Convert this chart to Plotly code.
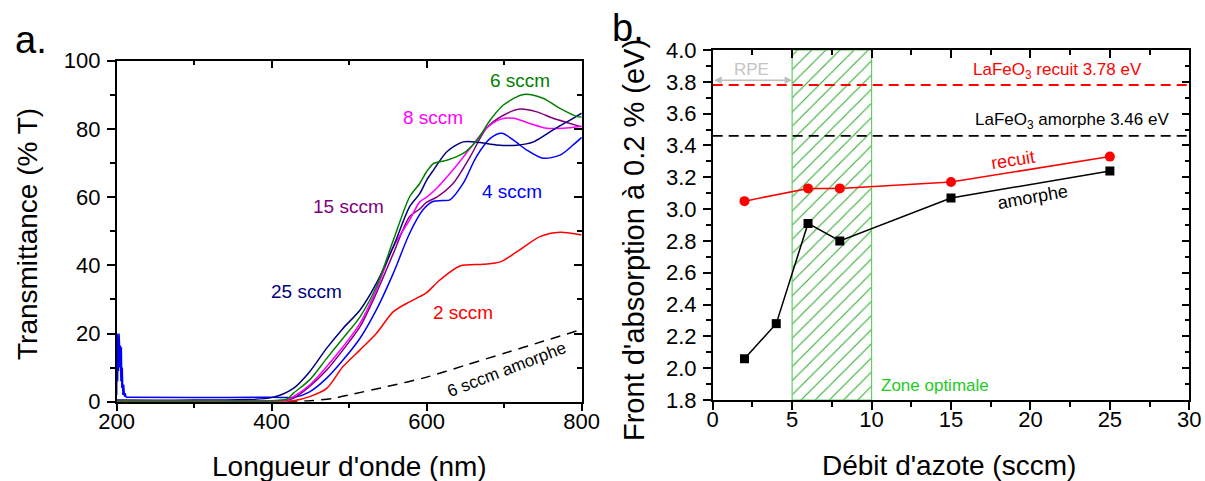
import plotly.graph_objects as go

# ---------------- Panel a: transmittance spectra ----------------
wl_6sccm = [200, 300, 400, 420, 428, 449, 471, 492, 514, 535, 557, 578, 591, 600, 609, 626, 647, 665, 682, 699, 725, 750, 772, 794, 800]
t_6sccm = [0.3, 0.3, 0.3, 0.8, 2.5, 6.4, 12.7, 18.6, 24.9, 33.7, 47.4, 60.1, 64.0, 67.5, 69.9, 70.8, 72.8, 76.7, 82.6, 87.0, 90.1, 89.0, 86.0, 83.6, 83.5]

wl_8sccm = [200, 300, 400, 420, 428, 449, 471, 492, 514, 535, 557, 578, 591, 600, 613, 634, 656, 677, 695, 712, 733, 755, 776, 800]
t_8sccm = [0.2, 0.2, 0.2, 0.6, 1.5, 4.9, 10.3, 16.1, 23.0, 32.8, 45.5, 53.3, 58.6, 60.0, 62.6, 68.0, 74.3, 80.2, 82.8, 83.1, 81.6, 80.2, 80.2, 80.8]

wl_15sccm = [200, 300, 400, 420, 428, 449, 471, 492, 514, 535, 557, 578, 591, 600, 613, 634, 656, 677, 699, 720, 742, 763, 785, 800]
t_15sccm = [0.2, 0.2, 0.2, 0.5, 1.0, 4.5, 9.3, 15.2, 22.0, 31.8, 43.5, 54.3, 56.5, 58.5, 60.0, 64.0, 71.8, 80.2, 84.0, 85.8, 85.0, 83.1, 81.6, 80.6]

wl_4sccm_spike = [200, 200.6, 201.2, 201.8, 202.4, 203, 203.6, 204.2, 204.8, 205.4, 206, 206.6, 207.2, 208, 209, 210, 211, 212]
t_4sccm_spike = [2, 20, 6, 19.5, 9, 20, 17, 10, 16.5, 6, 16, 4, 10, 2, 5, 1.5, 2.5, 1.3]
wl_4sccm = [212, 300, 400, 420, 428, 449, 471, 492, 514, 535, 557, 578, 595, 608, 620, 630, 647, 664, 682, 697, 712, 729, 750, 772, 789, 800]
t_4sccm = [1.3, 1.2, 1.3, 1.2, 1.2, 2.9, 6.9, 12.2, 18.6, 26.9, 37.7, 49.4, 56.2, 58.7, 59.0, 59.2, 64.0, 71.8, 77.2, 78.7, 76.7, 73.8, 71.4, 72.3, 75.3, 77.5]

wl_25sccm = [200, 300, 400, 428, 449, 471, 492, 514, 535, 557, 578, 591, 600, 609, 626, 647, 669, 690, 716, 738, 763, 785, 800]
t_25sccm = [0.5, 0.5, 1.2, 3.9, 8.8, 15.7, 21.5, 26.9, 34.7, 45.5, 57.2, 61.0, 65.0, 68.0, 73.3, 76.2, 76.0, 75.3, 75.2, 76.2, 79.7, 82.6, 84.6]

wl_2sccm = [200, 300, 400, 428, 449, 471, 492, 514, 535, 557, 578, 591, 600, 617, 643, 673, 695, 720, 746, 772, 800]
t_2sccm = [0.1, 0.1, 0.1, 0.3, 1.5, 3.9, 10.3, 15.2, 20.0, 26.4, 29.3, 30.8, 32.0, 35.7, 39.8, 40.3, 41.0, 44.5, 48.4, 49.7, 48.9]

wl_amorphe = [420, 450, 480, 500, 550, 600, 650, 700, 750, 800]
t_amorphe = [0.0, 0.3, 1.0, 2.0, 4.5, 7.2, 10.7, 14.2, 17.7, 21.2]

# ---------------- Panel b: absorption edge ----------------
debit_recuit = [2, 6, 8, 15, 25]
front_recuit = [3.05, 3.13, 3.13, 3.17, 3.33]
debit_amorphe = [2, 4, 6, 8, 15, 25]
front_amorphe = [2.06, 2.28, 2.91, 2.80, 3.07, 3.24]
ref_recuit = 3.78
ref_amorphe = 3.46
zone_optimale = [5, 10]
rpe_range = [0, 5]
rpe_level = 3.81

xa_range = [200, 800]
ya_range = [0, 100]
xb_range = [0, 30]
yb_range = [1.8, 4.0]

FONT = "Liberation Sans, Arial, sans-serif"
W, H = 1205, 481

fig = go.Figure()

def spec(x, y, color, shape="spline", dash=None):
    return go.Scatter(x=x, y=y, mode="lines", xaxis="x", yaxis="y",
                      line=dict(color=color, width=1.5, shape=shape, smoothing=0.8, dash=dash),
                      showlegend=False, hoverinfo="skip")

fig.add_trace(spec(wl_amorphe, t_amorphe, "black", dash="10px,7px"))
fig.add_trace(spec(wl_2sccm, t_2sccm, "#ff0000"))
fig.add_trace(spec(wl_4sccm_spike, t_4sccm_spike, "#0000ff", shape="linear"))
fig.add_trace(spec(wl_4sccm, t_4sccm, "#0000ff"))
fig.add_trace(spec(wl_15sccm, t_15sccm, "#800080"))
fig.add_trace(spec(wl_8sccm, t_8sccm, "#ff00ff"))
fig.add_trace(spec(wl_25sccm, t_25sccm, "#000080"))
fig.add_trace(spec(wl_6sccm, t_6sccm, "#008000"))

# Panel b traces
zx0, zx1 = zone_optimale
yb0, yb1 = yb_range
fig.add_trace(go.Scatter(x=[zx0, zx1, zx1, zx0, zx0], y=[yb0, yb0, yb1, yb1, yb0],
                         xaxis="x2", yaxis="y2", mode="lines", fill="toself",
                         fillcolor="rgba(0,0,0,0)",
                         fillpattern=dict(shape="/", fgcolor="#2aa82a", bgcolor="rgba(255,255,255,0)",
                                          size=10, solidity=0.1),
                         line=dict(color="#5fcf5f", width=1.2),
                         showlegend=False, hoverinfo="skip"))
fig.add_trace(go.Scatter(x=xb_range, y=[ref_recuit, ref_recuit], xaxis="x2", yaxis="y2", mode="lines",
                         line=dict(color="#ff0000", width=1.8, dash="10px,6px"), showlegend=False, hoverinfo="skip"))
fig.add_trace(go.Scatter(x=xb_range, y=[ref_amorphe, ref_amorphe], xaxis="x2", yaxis="y2", mode="lines",
                         line=dict(color="black", width=1.8, dash="10px,6px"), showlegend=False, hoverinfo="skip"))
fig.add_trace(go.Scatter(x=debit_recuit, y=front_recuit, xaxis="x2", yaxis="y2", mode="lines+markers",
                         line=dict(color="#ff0000", width=1.5),
                         marker=dict(symbol="circle", size=10, color="#ff0000"),
                         showlegend=False, hoverinfo="skip"))
fig.add_trace(go.Scatter(x=debit_amorphe, y=front_amorphe, xaxis="x2", yaxis="y2", mode="lines+markers",
                         line=dict(color="black", width=1.5),
                         marker=dict(symbol="square", size=9, color="black"),
                         showlegend=False, hoverinfo="skip"))

# dummy traces for mirrored (inside-tick) axes
fig.add_trace(go.Scatter(x=[None], y=[None], xaxis="x3", yaxis="y3", showlegend=False, hoverinfo="skip"))
fig.add_trace(go.Scatter(x=[None], y=[None], xaxis="x4", yaxis="y4", showlegend=False, hoverinfo="skip"))

# domains from pixel geometry
def px(xp):
    return xp / W

def py(yp):
    return 1 - yp / H

dom_xa = [px(116.7), px(581.7)]
dom_ya = [py(401.7), py(60.7)]
dom_xb = [px(712.7), px(1189.3)]
dom_yb = [py(400), py(50)]

tickfont = dict(family=FONT, size=22, color="black")
common = dict(showline=True, linecolor="black", linewidth=1.5, showgrid=False, zeroline=False,
              tickcolor="black", tickwidth=1.5, tickfont=tickfont, automargin=False)

fig.update_layout(
    template="none",
    width=W, height=H, margin=dict(l=0, r=0, t=0, b=0, pad=0), autosize=False,
    paper_bgcolor="white", plot_bgcolor="white",
    font=dict(family=FONT, color="black"),
    xaxis=dict(domain=dom_xa, anchor="y", range=xa_range, tickmode="linear", tick0=200, dtick=200,
               ticks="outside", ticklen=8, ticklabelstandoff=-9,
               minor=dict(dtick=100, ticks="outside", ticklen=5, tickcolor="black", tickwidth=1.5), **common),
    yaxis=dict(domain=dom_ya, anchor="x", range=ya_range, tickmode="linear", tick0=0, dtick=20,
               ticks="outside", ticklen=8, ticklabelstandoff=2,
               minor=dict(dtick=10, ticks="outside", ticklen=5, tickcolor="black", tickwidth=1.5), **common),
    xaxis3=dict(domain=dom_xa, anchor="y3", overlaying="x", side="top", range=xa_range, tickmode="linear",
                tick0=200, dtick=200, ticks="inside", ticklen=8, showticklabels=False,
                minor=dict(dtick=100, ticks="inside", ticklen=5, tickcolor="black", tickwidth=1.5), **common),
    yaxis3=dict(domain=dom_ya, anchor="x3", overlaying="y", side="right", range=ya_range, tickmode="linear",
                tick0=0, dtick=20, ticks="inside", ticklen=8, showticklabels=False,
                minor=dict(dtick=10, ticks="inside", ticklen=5, tickcolor="black", tickwidth=1.5), **common),
    xaxis2=dict(domain=dom_xb, anchor="y2", range=xb_range, tickmode="linear", tick0=0, dtick=5,
                ticks="outside", ticklen=8, ticklabelstandoff=-9,
                minor=dict(dtick=2.5, ticks="outside", ticklen=5, tickcolor="black", tickwidth=1.5), **common),
    yaxis2=dict(domain=dom_yb, anchor="x2", range=yb_range, tickmode="linear", tick0=1.8, dtick=0.2,
                tickformat=".1f", ticks="outside", ticklen=8, ticklabelstandoff=2,
                minor=dict(dtick=0.1, ticks="outside", ticklen=5, tickcolor="black", tickwidth=1.5), **common),
    xaxis4=dict(domain=dom_xb, anchor="y4", overlaying="x2", side="top", range=xb_range, tickmode="linear",
                tick0=0, dtick=5, ticks="inside", ticklen=8, showticklabels=False,
                minor=dict(dtick=2.5, ticks="inside", ticklen=5, tickcolor="black", tickwidth=1.5), **common),
    yaxis4=dict(domain=dom_yb, anchor="x4", overlaying="y2", side="right", range=yb_range, tickmode="linear",
                tick0=1.8, dtick=0.2, ticks="inside", ticklen=8, showticklabels=False,
                minor=dict(dtick=0.1, ticks="inside", ticklen=5, tickcolor="black", tickwidth=1.5), **common),
)

ann = []

def lab(text, x, y, color, size, xref="x", yref="y", angle=0, xanchor="center"):
    ann.append(dict(text=text, x=x, y=y, xref=xref, yref=yref, showarrow=False, textangle=angle,
                    xanchor=xanchor, yanchor="middle", font=dict(family=FONT, size=size, color=color)))

# panel a labels
lab("6 sccm", 720, 94.1, "#008000", 19)
lab("8 sccm", 608, 83.2, "#ff00ff", 19)
lab("15 sccm", 498.5, 57.1, "#800080", 19)
lab("4 sccm", 710, 61.5, "#0000ff", 19)
lab("25 sccm", 445.5, 32.2, "#000080", 19)
lab("2 sccm", 647, 26.3, "#ff0000", 19)
lab("6 sccm amorphe", 703.6, 9.3, "black", 17, angle=-21)

# panel b labels
lab("LaFeO<sub>3</sub> recuit 3.78 eV", 21.73, 3.87, "#ff0000", 17, "x2", "y2")
lab("LaFeO<sub>3</sub> amorphe 3.46 eV", 22.6, 3.554, "black", 17, "x2", "y2")
lab("recuit", 18.9, 3.308, "#ff0000", 18, "x2", "y2", angle=-9)
lab("amorphe", 20.16, 3.078, "black", 18, "x2", "y2", angle=-10)
lab("Zone optimale", 10.48, 1.894, "#22cc22", 17, "x2", "y2", xanchor="left")
lab("RPE", 2.45, 3.878, "#c4c4c4", 17, "x2", "y2")

ann.append(dict(x=rpe_range[1], y=rpe_level, ax=rpe_range[0], ay=rpe_level, xref="x2", yref="y2",
                axref="x2", ayref="y2", text="", showarrow=True, arrowhead=2, arrowside="end+start",
                arrowsize=1, arrowwidth=1.5, arrowcolor="#bdbdbd", standoff=0, startstandoff=0))

# axis titles and panel letters (paper coordinates)
lab("Transmittance (% T)", px(27), py(234), "black", 28, "paper", "paper", angle=-90)
lab("Longueur d'onde (nm)", px(349), py(466), "black", 28, "paper", "paper")
lab("Front d'absorption à 0.2 % (eV)", px(634), py(240), "black", 29, "paper", "paper", angle=-90)
lab("Débit d'azote (sccm)", px(949), py(465), "black", 28, "paper", "paper")
lab("a.", px(31), py(40), "black", 38, "paper", "paper")
lab("b.", px(628), py(28), "black", 38, "paper", "paper")

fig.update_layout(annotations=ann)
fig.write_html("out.html", config={"displayModeBar": False},
               post_script="document.body.style.margin='0px';document.body.style.overflow='hidden';")
